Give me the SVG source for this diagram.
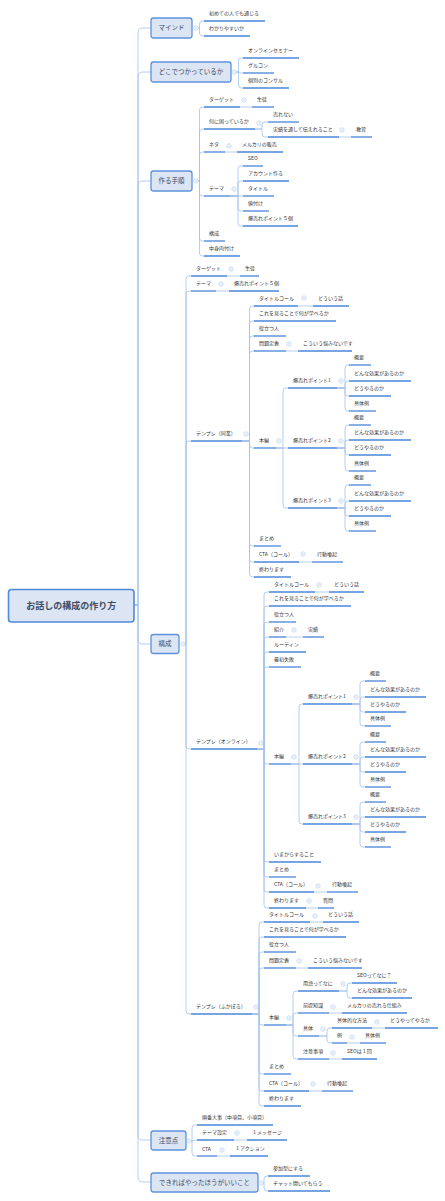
<svg xmlns="http://www.w3.org/2000/svg" xmlns:xlink="http://www.w3.org/1999/xlink" width="445" height="1201" viewBox="0 0 445 1201">
<style>
text{font-family:"Noto Sans CJK JP","Noto Sans",sans-serif;fill:#333}
.lf text{font-size:5px}
.lf line{stroke:#4a86d8;stroke-width:1.3}
.mn rect{fill:#dbe5f3;stroke:#5d93dc;stroke-width:1.3}
.mn text{font-size:6.5px;fill:#3c4a63;text-anchor:middle}
.root rect{fill:#dbe5f3;stroke:#4f89da;stroke-width:1.6}
.root text{font-size:9px;font-weight:bold;fill:#3c4a63;text-anchor:middle}
.c path{fill:none;stroke:#a3c2ec;stroke-width:0.8}
</style>
<defs>
<g id="col"><circle r="2.2" fill="#fff" stroke="#a9c4ea" stroke-width="0.6"/><line x1="-1.1" x2="1.1" stroke="#a9c4ea" stroke-width="0.6"/></g>
</defs>
<rect width="445" height="1201" fill="#fff"/>
<g class="c" id="connectors">
<path d="M134 605H138V33Q138 28 143 28H151"/>
<path d="M134 605H138V77Q138 72 143 72H151"/>
<path d="M134 605H138V186Q138 181 143 181H151"/>
<path d="M134 605H138V639Q138 644 143 644H151"/>
<path d="M134 605H138V1135Q138 1140 143 1140H151"/>
<path d="M134 605H138V1177Q138 1182 143 1182H151"/>
<path d="M198.5 28H199.5V24Q199.5 21 202.5 21H204"/>
<path d="M198.5 28H199.5V33Q199.5 36 202.5 36H204"/>
<path d="M236.5 72H238.5V61Q238.5 58 241.5 58H243"/>
<path d="M236.5 72H238.5Q239 73 241.5 73H243"/>
<path d="M236.5 72H238.5V85Q238.5 88 241.5 88H243"/>
<path d="M198.5 181H199.5V110Q199.5 107 202.5 107H204"/>
<path d="M198.5 181H199.5V132Q199.5 129 202.5 129H204"/>
<path d="M198.5 181H199.5V155Q199.5 152 202.5 152H204"/>
<path d="M198.5 181H199.5V193Q199.5 196 202.5 196H204"/>
<path d="M198.5 181H199.5V238Q199.5 241 202.5 241H204"/>
<path d="M198.5 181H199.5V253Q199.5 256 202.5 256H204"/>
<path d="M240 107H252"/>
<path d="M255 129H262V125Q262 122 265 122H268"/>
<path d="M255 129H262V134Q262 137 265 137H268"/>
<path d="M339 137H351"/>
<path d="M225 152H237"/>
<path d="M230 196H238V169Q238 166 241 166H243"/>
<path d="M230 196H238V184Q238 181 241 181H243"/>
<path d="M230 196H243"/>
<path d="M230 196H238V208Q238 211 241 211H243"/>
<path d="M230 196H238V223Q238 226 241 226H243"/>
<path d="M185.5 644H186V279Q186 276 189 276H191"/>
<path d="M185.5 644H186V294Q186 291 189 291H191"/>
<path d="M185.5 644H186V444Q186 441 189 441H191"/>
<path d="M185.5 644H186V746Q186 749 189 749H191"/>
<path d="M185.5 644H186V1011Q186 1014 189 1014H191"/>
<path d="M227 276H240"/>
<path d="M216 291H229"/>
<path d="M242 441H249.5V309Q249.5 306 252.5 306H254"/>
<path d="M242 441H249.5V324Q249.5 321 252.5 321H254"/>
<path d="M242 441H249.5V339Q249.5 336 252.5 336H254"/>
<path d="M242 441H249.5V354Q249.5 351 252.5 351H254"/>
<path d="M242 441H249.5V445Q249.5 448 252.5 448H254"/>
<path d="M242 441H249.5V543Q249.5 546 252.5 546H254"/>
<path d="M242 441H249.5V559Q249.5 562 252.5 562H254"/>
<path d="M242 441H249.5V574Q249.5 577 252.5 577H254"/>
<path d="M298 306H313"/>
<path d="M286 351H298"/>
<path d="M276 448H283V391Q283 388 286 388H288"/>
<path d="M276 448H288"/>
<path d="M276 448H283V505Q283 508 286 508H288"/>
<path d="M337 388H345V368Q345 365 348 365H349"/>
<path d="M337 388H345V384Q345 381 348 381H349"/>
<path d="M337 388H345V393Q345 396 348 396H349"/>
<path d="M337 388H345V408Q345 411 348 411H349"/>
<path d="M337 448H345V428Q345 425 348 425H349"/>
<path d="M337 448H345V443Q345 440 348 440H349"/>
<path d="M337 448H345V452Q345 455 348 455H349"/>
<path d="M337 448H345V468Q345 471 348 471H349"/>
<path d="M337 508H345V488Q345 485 348 485H349"/>
<path d="M337 508H345V504Q345 501 348 501H349"/>
<path d="M337 508H345V513Q345 516 348 516H349"/>
<path d="M337 508H345V528Q345 531 348 531H349"/>
<path d="M299 562H312"/>
<path d="M257 749H264V595Q264 592 267 592H269"/>
<path d="M257 749H264V609Q264 606 267 606H269"/>
<path d="M257 749H264V625Q264 622 267 622H269"/>
<path d="M257 749H264V640Q264 637 267 637H269"/>
<path d="M257 749H264V655Q264 652 267 652H269"/>
<path d="M257 749H264V670Q264 667 267 667H269"/>
<path d="M257 749H264V761Q264 764 267 764H269"/>
<path d="M257 749H264V859Q264 862 267 862H269"/>
<path d="M257 749H264V874Q264 877 267 877H269"/>
<path d="M257 749H264V889Q264 892 267 892H269"/>
<path d="M257 749H264V905Q264 908 267 908H269"/>
<path d="M315 592H329"/>
<path d="M286 637H303"/>
<path d="M291 764H299V707Q299 704 302 704H303"/>
<path d="M291 764H303"/>
<path d="M291 764H299V821Q299 824 302 824H303"/>
<path d="M352 704H360V684Q360 681 363 681H365"/>
<path d="M352 704H360V700Q360 697 363 697H365"/>
<path d="M352 704H360V709Q360 712 363 712H365"/>
<path d="M352 704H360V723Q360 726 363 726H365"/>
<path d="M352 764H360V745Q360 742 363 742H365"/>
<path d="M352 764H360V760Q360 757 363 757H365"/>
<path d="M352 764H360V769Q360 772 363 772H365"/>
<path d="M352 764H360V784Q360 787 363 787H365"/>
<path d="M352 824H360V805Q360 802 363 802H365"/>
<path d="M352 824H360V820Q360 817 363 817H365"/>
<path d="M352 824H360V829Q360 832 363 832H365"/>
<path d="M352 824H360V844Q360 847 363 847H365"/>
<path d="M314 892H327"/>
<path d="M306 908H318"/>
<path d="M252 1014H259V925Q259 922 262 922H264"/>
<path d="M252 1014H259V940Q259 937 262 937H264"/>
<path d="M252 1014H259V955Q259 952 262 952H264"/>
<path d="M252 1014H259V971Q259 968 262 968H264"/>
<path d="M252 1014H259V1022Q259 1025 262 1025H264"/>
<path d="M252 1014H259V1071Q259 1074 262 1074H264"/>
<path d="M252 1014H259V1088Q259 1091 262 1091H264"/>
<path d="M252 1014H259V1103Q259 1106 262 1106H264"/>
<path d="M310 922H323"/>
<path d="M296 968H308"/>
<path d="M286 1025H293V994Q293 991 296 991H298"/>
<path d="M286 1025H293V1016Q293 1013 296 1013H298"/>
<path d="M286 1025H293V1033Q293 1036 296 1036H298"/>
<path d="M286 1025H293V1056Q293 1059 296 1059H298"/>
<path d="M339 991H347V986Q347 983 350 983H352"/>
<path d="M339 991H347V995Q347 998 350 998H352"/>
<path d="M329 1013H342"/>
<path d="M319 1036H327V1031Q327 1028 330 1028H332"/>
<path d="M319 1036H327V1040Q327 1043 330 1043H332"/>
<path d="M372 1028H385"/>
<path d="M347 1043H360"/>
<path d="M329 1059H342"/>
<path d="M309 1091H322"/>
<path d="M191.5 1141H192V1128Q192 1125 195 1125H197"/>
<path d="M191.5 1141L197 1140"/>
<path d="M191.5 1141H192V1153Q192 1156 195 1156H197"/>
<path d="M234 1140H247"/>
<path d="M217 1156H230"/>
<path d="M263.5 1183H264V1179Q264 1176 267 1176H268"/>
<path d="M263.5 1183H264V1188Q264 1191 267 1191H268"/>
</g>
<g id="root" class="root"><rect x="8.5" y="589.5" width="125.5" height="32.5" rx="3"/><text x="71.3" y="609">お話しの構成の作り方</text></g>
<g id="m-mind" class="mn"><rect x="151" y="18" width="41" height="20" rx="2.5"/><text x="171.5" y="30.3">マインド</text></g>
<g id="m-where" class="mn"><rect x="151" y="62" width="80" height="20" rx="2.5"/><text x="191" y="74.3">どこでつかっているか</text></g>
<g id="m-steps" class="mn"><rect x="151" y="171" width="41" height="20" rx="2.5"/><text x="171.5" y="183.3">作る手順</text></g>
<g id="m-kosei" class="mn"><rect x="151" y="634.5" width="28" height="19" rx="2.5"/><text x="165" y="646.3">構成</text></g>
<g id="m-caution" class="mn"><rect x="151" y="1131" width="35" height="19" rx="2.5"/><text x="168.5" y="1142.8">注意点</text></g>
<g id="m-better" class="mn"><rect x="151" y="1173" width="107" height="19" rx="2.5"/><text x="204.5" y="1184.8">できればやったほうがいいこと</text></g>
<g class="lf">
<g id="n1"><text x="209" y="15">初めての人でも通じる</text><line x1="204" x2="265" y1="21" y2="21"/></g>
<g id="n2"><text x="209" y="30">わかりやすいか</text><line x1="204" x2="250" y1="36" y2="36"/></g>
<g id="n3"><text x="248" y="52">オンラインセミナー</text><line x1="243" x2="299" y1="58" y2="58"/></g>
<g id="n4"><text x="248" y="67">グルコン</text><line x1="243" x2="274" y1="73" y2="73"/></g>
<g id="n5"><text x="248" y="82">個別のコンサル</text><line x1="243" x2="289" y1="88" y2="88"/></g>
<g id="n6"><text x="209" y="101">ターゲット</text><line x1="204" x2="240" y1="107" y2="107"/></g>
<g id="n7"><text x="257" y="101">生徒</text><line x1="252" x2="274" y1="107" y2="107"/></g>
<g id="n8"><text x="209" y="123">何に困っているか</text><line x1="204" x2="255" y1="129" y2="129"/></g>
<g id="n9"><text x="273" y="116">売れない</text><line x1="268" x2="299" y1="122" y2="122"/></g>
<g id="n10"><text x="273" y="131">実績を通して伝えれること</text><line x1="268" x2="339" y1="137" y2="137"/></g>
<g id="n11"><text x="356" y="131">教育</text><line x1="351" x2="372" y1="137" y2="137"/></g>
<g id="n12"><text x="209" y="146">ネタ</text><line x1="204" x2="225" y1="152" y2="152"/></g>
<g id="n13"><text x="242" y="146">メルカリの販売</text><line x1="237" x2="283" y1="152" y2="152"/></g>
<g id="n14"><text x="209" y="190">テーマ</text><line x1="204" x2="230" y1="196" y2="196"/></g>
<g id="n15"><text x="248" y="160">SEO</text><line x1="243" x2="263" y1="166" y2="166"/></g>
<g id="n16"><text x="248" y="175">アカウント作る</text><line x1="243" x2="289" y1="181" y2="181"/></g>
<g id="n17"><text x="248" y="190">タイトル</text><line x1="243" x2="274" y1="196" y2="196"/></g>
<g id="n18"><text x="248" y="205">値付け</text><line x1="243" x2="269" y1="211" y2="211"/></g>
<g id="n19"><text x="248" y="220">爆売れポイント５個</text><line x1="243" x2="298" y1="226" y2="226"/></g>
<g id="n20"><text x="209" y="235">構成</text><line x1="204" x2="225" y1="241" y2="241"/></g>
<g id="n21"><text x="209" y="250">中身肉付け</text><line x1="204" x2="240" y1="256" y2="256"/></g>
<g id="a1"><text x="196" y="270">ターゲット</text><line x1="191" x2="227" y1="276" y2="276"/></g>
<g id="a2"><text x="245" y="270">生徒</text><line x1="240" x2="259" y1="276" y2="276"/></g>
<g id="a3"><text x="196" y="285">テーマ</text><line x1="191" x2="216" y1="291" y2="291"/></g>
<g id="a4"><text x="234" y="285">爆売れポイント５個</text><line x1="229" x2="279" y1="291" y2="291"/></g>
<g id="a5"><text x="196" y="435">テンプレ（同業）</text><line x1="191" x2="242" y1="441" y2="441"/></g>
<g id="a6"><text x="196" y="743">テンプレ（オンライン）</text><line x1="191" x2="257" y1="749" y2="749"/></g>
<g id="a7"><text x="196" y="1008">テンプレ（ふかぼる）</text><line x1="191" x2="252" y1="1014" y2="1014"/></g>
<g id="b1"><text x="259" y="300">タイトルコール</text><line x1="254" x2="298" y1="306" y2="306"/></g>
<g id="b2"><text x="318" y="300">どういう話</text><line x1="313" x2="349" y1="306" y2="306"/></g>
<g id="b3"><text x="259" y="315">これを見ることで何が学べるか</text><line x1="254" x2="336" y1="321" y2="321"/></g>
<g id="b4"><text x="259" y="330">役立つ人</text><line x1="254" x2="286" y1="336" y2="336"/></g>
<g id="b5"><text x="259" y="345">問題定義</text><line x1="254" x2="286" y1="351" y2="351"/></g>
<g id="b6"><text x="303" y="345">こういう悩みないです</text><line x1="298" x2="352" y1="351" y2="351"/></g>
<g id="b7"><text x="259" y="442">本編</text><line x1="254" x2="276" y1="448" y2="448"/></g>
<g id="b8"><text x="293" y="382">爆売れポイント1</text><line x1="288" x2="337" y1="388" y2="388"/></g>
<g id="b9"><text x="354" y="359">概要</text><line x1="349" x2="371" y1="365" y2="365"/></g>
<g id="b10"><text x="354" y="375">どんな効果があるのか</text><line x1="349" x2="411" y1="381" y2="381"/></g>
<g id="b11"><text x="354" y="390">どうやるのか</text><line x1="349" x2="391" y1="396" y2="396"/></g>
<g id="b12"><text x="354" y="405">具体例</text><line x1="349" x2="376" y1="411" y2="411"/></g>
<g id="b13"><text x="293" y="442">爆売れポイント2</text><line x1="288" x2="337" y1="448" y2="448"/></g>
<g id="b14"><text x="354" y="419">概要</text><line x1="349" x2="371" y1="425" y2="425"/></g>
<g id="b15"><text x="354" y="434">どんな効果があるのか</text><line x1="349" x2="411" y1="440" y2="440"/></g>
<g id="b16"><text x="354" y="449">どうやるのか</text><line x1="349" x2="391" y1="455" y2="455"/></g>
<g id="b17"><text x="354" y="465">具体例</text><line x1="349" x2="376" y1="471" y2="471"/></g>
<g id="b18"><text x="293" y="502">爆売れポイント3</text><line x1="288" x2="337" y1="508" y2="508"/></g>
<g id="b19"><text x="354" y="479">概要</text><line x1="349" x2="371" y1="485" y2="485"/></g>
<g id="b20"><text x="354" y="495">どんな効果があるのか</text><line x1="349" x2="411" y1="501" y2="501"/></g>
<g id="b21"><text x="354" y="510">どうやるのか</text><line x1="349" x2="391" y1="516" y2="516"/></g>
<g id="b22"><text x="354" y="525">具体例</text><line x1="349" x2="376" y1="531" y2="531"/></g>
<g id="b23"><text x="259" y="540">まとめ</text><line x1="254" x2="281" y1="546" y2="546"/></g>
<g id="b24"><text x="259" y="556">CTA（コール）</text><line x1="254" x2="299" y1="562" y2="562"/></g>
<g id="b25"><text x="317" y="556">行動喚起</text><line x1="312" x2="343" y1="562" y2="562"/></g>
<g id="b26"><text x="259" y="571">終わります</text><line x1="254" x2="291" y1="577" y2="577"/></g>
<g id="c1"><text x="274" y="586">タイトルコール</text><line x1="269" x2="315" y1="592" y2="592"/></g>
<g id="c2"><text x="334" y="586">どういう話</text><line x1="329" x2="364" y1="592" y2="592"/></g>
<g id="c3"><text x="274" y="600">これを見ることで何が学べるか</text><line x1="269" x2="351" y1="606" y2="606"/></g>
<g id="c4"><text x="274" y="616">役立つ人</text><line x1="269" x2="296" y1="622" y2="622"/></g>
<g id="c5"><text x="274" y="631">紹介</text><line x1="269" x2="286" y1="637" y2="637"/></g>
<g id="c6"><text x="308" y="631">実績</text><line x1="303" x2="324" y1="637" y2="637"/></g>
<g id="c7"><text x="274" y="646">ルーティン</text><line x1="269" x2="306" y1="652" y2="652"/></g>
<g id="c8"><text x="274" y="661">最初失敗</text><line x1="269" x2="301" y1="667" y2="667"/></g>
<g id="c9"><text x="274" y="758">本編</text><line x1="269" x2="291" y1="764" y2="764"/></g>
<g id="c10"><text x="308" y="698">爆売れポイント1</text><line x1="303" x2="352" y1="704" y2="704"/></g>
<g id="c11"><text x="370" y="675">概要</text><line x1="365" x2="386" y1="681" y2="681"/></g>
<g id="c12"><text x="370" y="691">どんな効果があるのか</text><line x1="365" x2="426" y1="697" y2="697"/></g>
<g id="c13"><text x="370" y="706">どうやるのか</text><line x1="365" x2="406" y1="712" y2="712"/></g>
<g id="c14"><text x="370" y="720">具体例</text><line x1="365" x2="391" y1="726" y2="726"/></g>
<g id="c15"><text x="308" y="758">爆売れポイント2</text><line x1="303" x2="352" y1="764" y2="764"/></g>
<g id="c16"><text x="370" y="736">概要</text><line x1="365" x2="386" y1="742" y2="742"/></g>
<g id="c17"><text x="370" y="751">どんな効果があるのか</text><line x1="365" x2="426" y1="757" y2="757"/></g>
<g id="c18"><text x="370" y="766">どうやるのか</text><line x1="365" x2="406" y1="772" y2="772"/></g>
<g id="c19"><text x="370" y="781">具体例</text><line x1="365" x2="391" y1="787" y2="787"/></g>
<g id="c20"><text x="308" y="818">爆売れポイント3</text><line x1="303" x2="352" y1="824" y2="824"/></g>
<g id="c21"><text x="370" y="796">概要</text><line x1="365" x2="386" y1="802" y2="802"/></g>
<g id="c22"><text x="370" y="811">どんな効果があるのか</text><line x1="365" x2="426" y1="817" y2="817"/></g>
<g id="c23"><text x="370" y="826">どうやるのか</text><line x1="365" x2="406" y1="832" y2="832"/></g>
<g id="c24"><text x="370" y="841">具体例</text><line x1="365" x2="391" y1="847" y2="847"/></g>
<g id="c25"><text x="274" y="856">いまからすること</text><line x1="269" x2="321" y1="862" y2="862"/></g>
<g id="c26"><text x="274" y="871">まとめ</text><line x1="269" x2="296" y1="877" y2="877"/></g>
<g id="c27"><text x="274" y="886">CTA（コール）</text><line x1="269" x2="314" y1="892" y2="892"/></g>
<g id="c28"><text x="332" y="886">行動喚起</text><line x1="327" x2="358" y1="892" y2="892"/></g>
<g id="c29"><text x="274" y="902">終わります</text><line x1="269" x2="306" y1="908" y2="908"/></g>
<g id="c30"><text x="323" y="902">質問</text><line x1="318" x2="334" y1="908" y2="908"/></g>
<g id="d1"><text x="269" y="916">タイトルコール</text><line x1="264" x2="310" y1="922" y2="922"/></g>
<g id="d2"><text x="328" y="916">どういう話</text><line x1="323" x2="359" y1="922" y2="922"/></g>
<g id="d3"><text x="269" y="931">これを見ることで何が学べるか</text><line x1="264" x2="346" y1="937" y2="937"/></g>
<g id="d4"><text x="269" y="946">役立つ人</text><line x1="264" x2="296" y1="952" y2="952"/></g>
<g id="d5"><text x="269" y="962">問題定義</text><line x1="264" x2="296" y1="968" y2="968"/></g>
<g id="d6"><text x="313" y="962">こういう悩みないです</text><line x1="308" x2="362" y1="968" y2="968"/></g>
<g id="d7"><text x="269" y="1019">本編</text><line x1="264" x2="286" y1="1025" y2="1025"/></g>
<g id="d8"><text x="303" y="985">用語ってなに</text><line x1="298" x2="339" y1="991" y2="991"/></g>
<g id="d9"><text x="357" y="977">SEOってなに？</text><line x1="352" x2="397" y1="983" y2="983"/></g>
<g id="d10"><text x="357" y="992">どんな効果があるのか</text><line x1="352" x2="412" y1="998" y2="998"/></g>
<g id="d11"><text x="303" y="1007">前提知識</text><line x1="298" x2="329" y1="1013" y2="1013"/></g>
<g id="d12"><text x="347" y="1007">メルカリの売れる仕組み</text><line x1="342" x2="407" y1="1013" y2="1013"/></g>
<g id="d13"><text x="303" y="1030">具体</text><line x1="298" x2="319" y1="1036" y2="1036"/></g>
<g id="d14"><text x="337" y="1022">具体的な方法</text><line x1="332" x2="372" y1="1028" y2="1028"/></g>
<g id="d15"><text x="390" y="1022">どうやってやるか</text><line x1="385" x2="438" y1="1028" y2="1028"/></g>
<g id="d16"><text x="337" y="1037">例</text><line x1="332" x2="347" y1="1043" y2="1043"/></g>
<g id="d17"><text x="365" y="1037">具体例</text><line x1="360" x2="386" y1="1043" y2="1043"/></g>
<g id="d18"><text x="303" y="1053">注意事項</text><line x1="298" x2="329" y1="1059" y2="1059"/></g>
<g id="d19"><text x="347" y="1053">SEOは１回</text><line x1="342" x2="377" y1="1059" y2="1059"/></g>
<g id="d20"><text x="269" y="1068">まとめ</text><line x1="264" x2="291" y1="1074" y2="1074"/></g>
<g id="d21"><text x="269" y="1085">CTA（コール）</text><line x1="264" x2="309" y1="1091" y2="1091"/></g>
<g id="d22"><text x="327" y="1085">行動喚起</text><line x1="322" x2="353" y1="1091" y2="1091"/></g>
<g id="d23"><text x="269" y="1100">終わります</text><line x1="264" x2="301" y1="1106" y2="1106"/></g>
<g id="e1"><text x="202" y="1119">順番大事（中項目、小項目）</text><line x1="197" x2="273" y1="1125" y2="1125"/></g>
<g id="e2"><text x="202" y="1134">テーマ設定</text><line x1="197" x2="234" y1="1140" y2="1140"/></g>
<g id="e3"><text x="252" y="1134">１メッセージ</text><line x1="247" x2="287" y1="1140" y2="1140"/></g>
<g id="e4"><text x="202" y="1151">CTA</text><line x1="197" x2="217" y1="1156" y2="1156"/></g>
<g id="e5"><text x="235" y="1150">１アクション</text><line x1="230" x2="268" y1="1156" y2="1156"/></g>
<g id="f1"><text x="273" y="1170">参加型にする</text><line x1="268" x2="310" y1="1176" y2="1176"/></g>
<g id="f2"><text x="273" y="1185">チャット開いてもらう</text><line x1="268" x2="330" y1="1191" y2="1191"/></g>
</g>
<g id="collapse">
<use href="#col" x="196" y="28"/><use href="#col" x="234" y="72"/><use href="#col" x="196" y="181"/><use href="#col" x="183" y="644"/><use href="#col" x="189" y="1141"/><use href="#col" x="261" y="1183"/>
<use href="#col" x="244" y="100"/><use href="#col" x="259" y="123"/><use href="#col" x="342" y="130"/><use href="#col" x="229" y="146"/><use href="#col" x="234" y="189"/>
<use href="#col" x="231" y="269"/><use href="#col" x="221" y="284"/><use href="#col" x="246" y="434"/><use href="#col" x="304" y="298"/><use href="#col" x="289" y="344"/><use href="#col" x="279" y="441"/><use href="#col" x="341" y="381"/><use href="#col" x="341" y="441"/><use href="#col" x="341" y="501"/><use href="#col" x="303" y="554"/>
<use href="#col" x="261" y="743"/><use href="#col" x="319" y="585"/><use href="#col" x="294" y="630"/><use href="#col" x="294" y="757"/><use href="#col" x="356" y="697"/><use href="#col" x="356" y="757"/><use href="#col" x="356" y="817"/><use href="#col" x="318" y="886"/><use href="#col" x="309" y="901"/>
<use href="#col" x="256" y="1007"/><use href="#col" x="315" y="916"/><use href="#col" x="299" y="961"/><use href="#col" x="289" y="1018"/><use href="#col" x="343" y="984"/><use href="#col" x="333" y="1007"/><use href="#col" x="323" y="1029"/><use href="#col" x="377" y="1022"/><use href="#col" x="352" y="1037"/><use href="#col" x="333" y="1053"/><use href="#col" x="313" y="1084"/>
<use href="#col" x="237" y="1133"/><use href="#col" x="222" y="1150"/>
</g>
</svg>
